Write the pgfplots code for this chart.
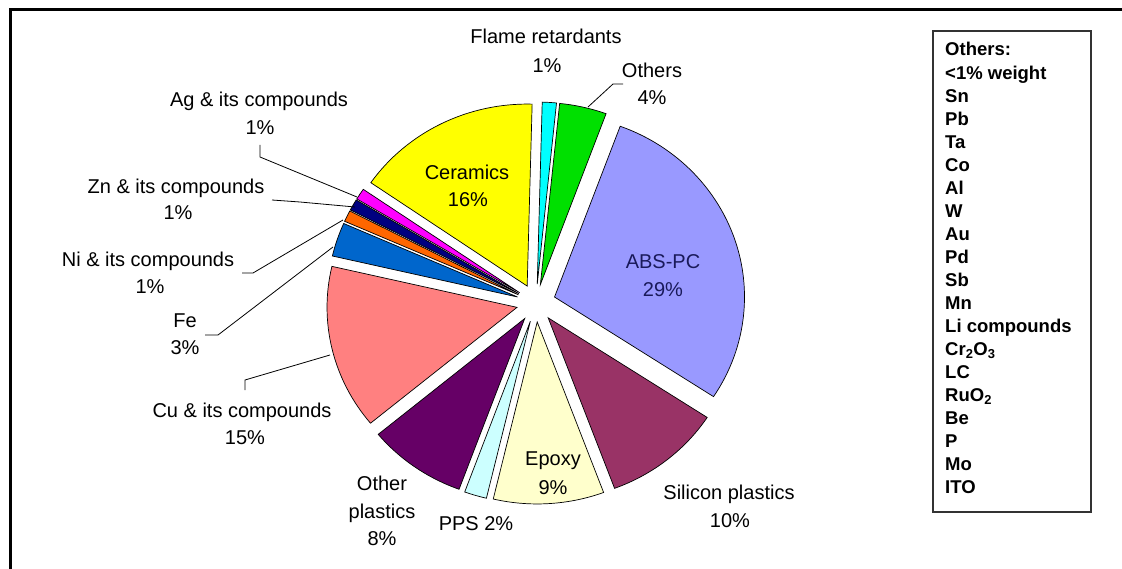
\documentclass[border=0pt]{standalone}
\usepackage{pgfplots}
\pgfplotsset{compat=1.18}
\usepackage{fontspec}
\setmainfont{Liberation Sans}
\definecolor{cFlame}{HTML}{00FFFF}
\definecolor{cOthers}{HTML}{00E000}
\definecolor{cABS}{HTML}{9999FF}
\definecolor{cSil}{HTML}{993366}
\definecolor{cEpoxy}{HTML}{FFFFCC}
\definecolor{cPPS}{HTML}{CCFFFF}
\definecolor{cOtherPl}{HTML}{660066}
\definecolor{cCu}{HTML}{FF8080}
\definecolor{cFe}{HTML}{0066CC}
\definecolor{cNi}{HTML}{FF6600}
\definecolor{cZn}{HTML}{000080}
\definecolor{cAg}{HTML}{FF00FF}
\definecolor{cCer}{HTML}{FFFF00}
\definecolor{cABStext}{HTML}{1A1A5A}
% slice: colour, cumulative start (%), cumulative end (%)
\newcommand{\slice}[3]{%
  \filldraw[fill=#1, draw=black, line width=0.7pt, line join=miter]
    (axis cs:{536+19.5*sin(1.5+1.8*(#2+#3))},{303-19*cos(1.5+1.8*(#2+#3))})
    -- ++({190pt*sin(1.5+3.6*#2)},{182pt*cos(1.5+3.6*#2)})
    arc[start angle={88.5-3.6*#2}, end angle={88.5-3.6*#3}, x radius=190pt, y radius=182pt]
    -- cycle;}
\newcommand{\lfont}{\fontsize{20}{23}\selectfont}
\newcommand{\bfont}{\fontsize{18.5}{21}\selectfont\bfseries}
\newcommand{\lab}[3]{\node[font=\lfont, inner sep=0pt, anchor=base] at (axis cs:#1,#2) {#3};}
\newcommand{\boxline}[2]{\node[font=\bfont, inner sep=0pt, anchor=base west] at (axis cs:945,#1) {#2};}
\begin{document}
\begin{tikzpicture}
\begin{axis}[
  width=1122pt, height=569pt, scale only axis,
  xmin=0, xmax=1122, ymin=0, ymax=569, y dir=reverse,
  hide axis, clip=false]
% outer frame
\draw[line width=3pt] (axis cs:10,569) -- (axis cs:10,10) -- (axis cs:1122,10);
% pie slices (values in percent: 1.2, 4.0, 28.6, 10.1, 9.4, 1.9, 8.4, 14.6, 3.0, 1.0, 1.0, 1.0, 15.8)
\slice{cFlame}{0}{1.2}
\slice{cOthers}{1.2}{5.2}
\slice{cABS}{5.2}{33.8}
\slice{cSil}{33.8}{43.9}
\slice{cEpoxy}{43.9}{53.3}
\slice{cPPS}{53.3}{55.2}
\slice{cOtherPl}{55.2}{63.6}
\slice{cCu}{63.6}{78.2}
\slice{cFe}{78.2}{81.2}
\slice{cNi}{81.2}{82.2}
\slice{cZn}{82.2}{83.2}
\slice{cAg}{83.2}{84.2}
\slice{cCer}{84.2}{100}
% leader lines
\draw[line width=0.8pt] (axis cs:623,84) -- (axis cs:613,84) -- (axis cs:588,107);
\draw[line width=0.8pt] (axis cs:245,390) -- (axis cs:245,380) -- (axis cs:330,355);
\draw[line width=0.8pt] (axis cs:205,335) -- (axis cs:218,335) -- (axis cs:333,247);
\draw[line width=0.8pt] (axis cs:242,273) -- (axis cs:253,273) -- (axis cs:343,220);
\draw[line width=0.8pt] (axis cs:272,200) -- (axis cs:300,202) -- (axis cs:355,207);
\draw[line width=0.8pt] (axis cs:260,145) -- (axis cs:260,157) -- (axis cs:357,197);
% labels
\lab{546}{44}{Flame retardants}
\lab{547}{73}{1\%}
\lab{652}{78}{Others}
\lab{652}{105}{4\%}
\lab{467}{180}{Ceramics}
\lab{468}{207}{16\%}
\node[font=\lfont, inner sep=0pt, anchor=base, text=cABStext] at (axis cs:663,269) {ABS-PC};
\node[font=\lfont, inner sep=0pt, anchor=base, text=cABStext] at (axis cs:663,297) {29\%};
\lab{729}{499}{Silicon plastics}
\lab{730}{527}{10\%}
\lab{553}{465}{Epoxy}
\lab{553}{494}{9\%}
\lab{476}{530}{PPS 2\%}
\lab{382}{490}{Other}
\lab{382}{518}{plastics}
\lab{382}{545}{8\%}
\lab{242}{417}{Cu \& its compounds}
\lab{245}{444}{15\%}
\lab{185}{327}{Fe}
\lab{185}{355}{3\%}
\lab{148}{267}{Ni \& its compounds}
\lab{150}{294}{1\%}
\lab{176}{194}{Zn \& its compounds}
\lab{178}{220}{1\%}
\lab{259}{107}{Ag \& its compounds}
\lab{260}{135}{1\%}
% others box
\draw[line width=1.3pt, draw=black!80] (axis cs:933,31) rectangle (axis cs:1091,512);
\boxline{56}{Others:}
\boxline{79.05}{<1\% weight}
\boxline{102.1}{Sn}
\boxline{125.15}{Pb}
\boxline{148.2}{Ta}
\boxline{171.25}{Co}
\boxline{194.3}{Al}
\boxline{217.35}{W}
\boxline{240.4}{Au}
\boxline{263.45}{Pd}
\boxline{286.5}{Sb}
\boxline{309.55}{Mn}
\boxline{332.6}{Li compounds}
\boxline{355.65}{Cr\textsubscript{2}O\textsubscript{3}}
\boxline{378.7}{LC}
\boxline{401.75}{RuO\textsubscript{2}}
\boxline{424.8}{Be}
\boxline{447.85}{P}
\boxline{470.9}{Mo}
\boxline{493.95}{ITO}
\end{axis}
\pgfresetboundingbox
\path (current axis.south west) rectangle (current axis.north east);
\end{tikzpicture}
\end{document}
